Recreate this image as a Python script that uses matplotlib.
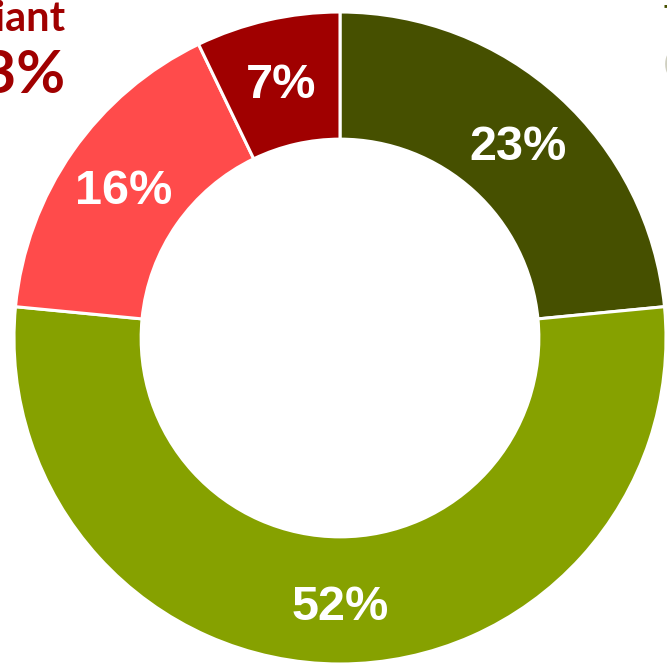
import matplotlib.pyplot as plt

# Datos del anillo (en sentido horario desde arriba)
valores = [23, 52, 16, 7]
etiquetas = ["23%", "52%", "16%", "7%"]
colores = ["#465000", "#86A100", "#FF4B4B", "#A00000"]

W, H = 667, 665
CX, CY, R = 340, 338, 326  # centro y radio en píxeles

fig = plt.figure(figsize=(W / 100, H / 100), dpi=100)
ax = fig.add_axes([0, 0, 1, 1])

wedges, textos = ax.pie(
    valores,
    startangle=90,
    counterclock=False,
    colors=colores,
    radius=1.0,
    labels=etiquetas,
    labeldistance=0.81,
    wedgeprops=dict(width=0.39, edgecolor="white", linewidth=2.2),
    textprops=dict(color="white", fontsize=35, fontweight="bold",
                   family="Liberation Sans", ha="center", va="center_baseline"),
)

ax.set_xlim(-CX / R, (W - CX) / R)
ax.set_ylim(-(H - CY) / R, CY / R)
ax.set_aspect("equal")
ax.axis("off")

# Textos recortados en los bordes
fig.text(66 / W, 1 - 31 / H, "Compliant", color="#A00000", fontsize=30,
         fontweight="bold", family="Lato", ha="right", va="baseline")
fig.text(66 / W, 1 - 93 / H, "23%", color="#A00000", fontsize=43,
         fontweight="bold", family="Lato", ha="right", va="baseline")
fig.text(663 / W, 1 - 27 / H, "Typical", color="#465000", fontsize=22,
         fontweight="bold", family="Lato", ha="left", va="baseline")
fig.text(664 / W, 1 - 72 / H, "(", color="#CFCFC0", fontsize=18,
         family="Lato", ha="left", va="baseline")

fig.savefig("out.png", dpi=100)
